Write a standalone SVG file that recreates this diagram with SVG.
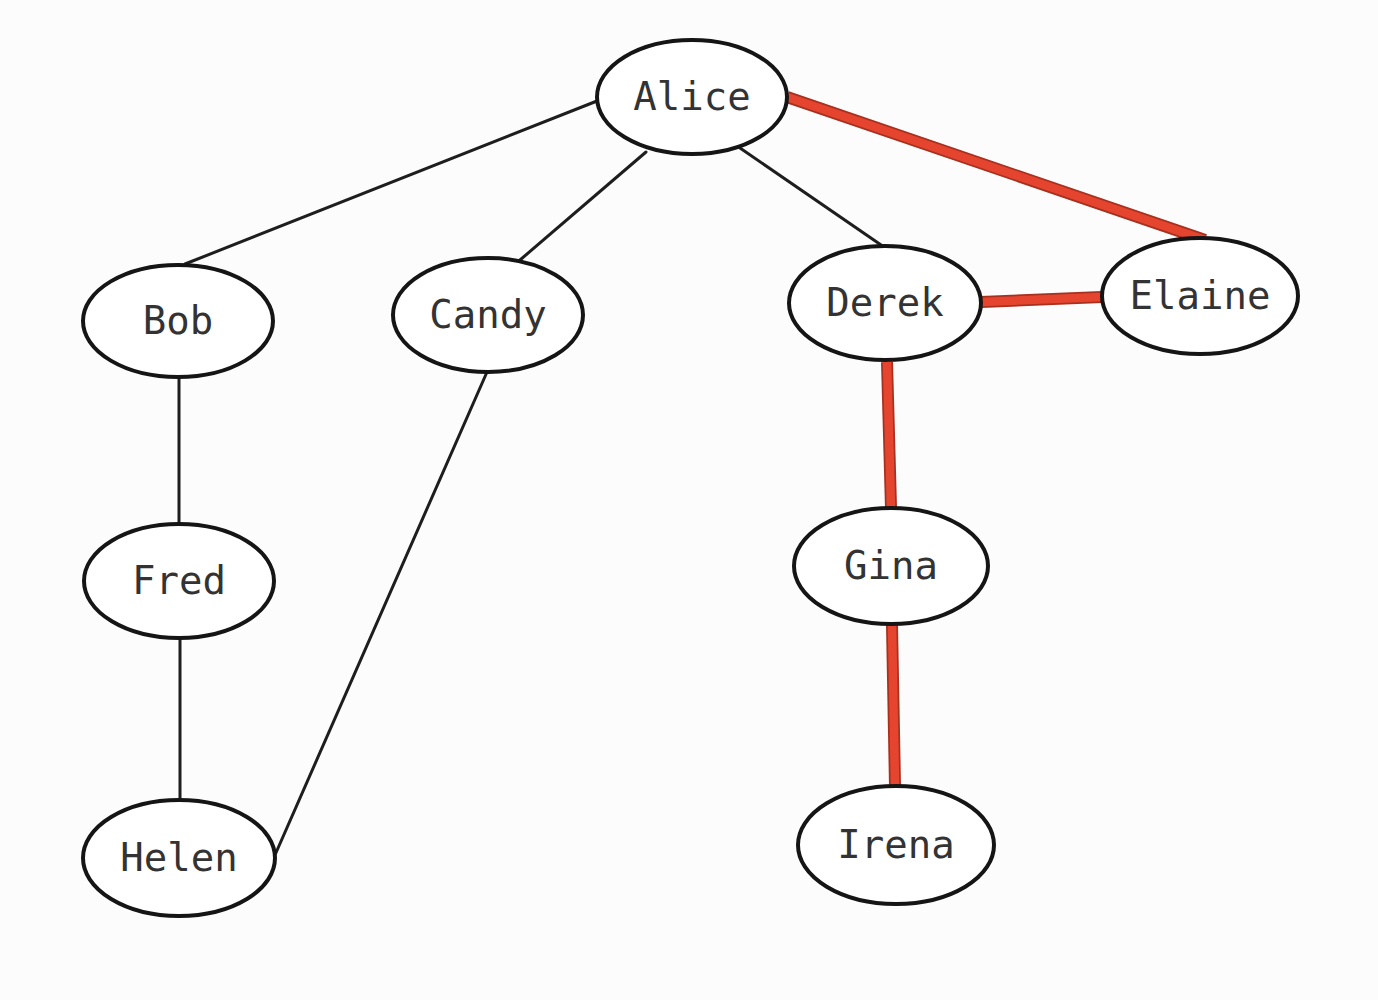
<svg xmlns="http://www.w3.org/2000/svg" width="1378" height="1000" viewBox="0 0 1378 1000">
<style>
.node ellipse{fill:#fff;stroke:#151515;stroke-width:4}
.node text{font-family:"DejaVu Sans Mono","Liberation Mono",monospace;font-size:39px;fill:#333;text-anchor:middle}
.e{stroke:#1e1e1e;stroke-width:3;fill:none;stroke-linecap:round}
.rb{stroke:#a8301f;stroke-width:12;fill:none}
.r{stroke:#e5452f;stroke-width:8.5;fill:none}
</style>
<rect width="1378" height="1000" fill="#fcfcfc"/>
<g id="connectors">
<line class="e" x1="597" y1="101" x2="185" y2="264"/>
<line class="e" x1="646" y1="152" x2="520" y2="260"/>
<line class="e" x1="740" y1="148" x2="884" y2="247"/>
<line class="e" x1="179" y1="378" x2="179" y2="525"/>
<line class="e" x1="487" y1="372" x2="275" y2="855"/>
<line class="e" x1="180" y1="638" x2="180" y2="800"/>
<g>
<line class="rb" x1="787" y1="97" x2="1205" y2="240"/>
<line class="rb" x1="981" y1="302" x2="1102" y2="297"/>
<line class="rb" x1="887" y1="362" x2="891" y2="508"/>
<line class="rb" x1="892" y1="625" x2="895" y2="786"/>
<line class="r" x1="787" y1="97" x2="1205" y2="240"/>
<line class="r" x1="981" y1="302" x2="1102" y2="297"/>
<line class="r" x1="887" y1="362" x2="891" y2="508"/>
<line class="r" x1="892" y1="625" x2="895" y2="786"/>
</g>
</g>
<g id="alice" class="node"><ellipse cx="692" cy="97" rx="95" ry="57"/><text x="692" y="110">Alice</text></g>
<g id="bob" class="node"><ellipse cx="178" cy="321" rx="95" ry="56"/><text x="178" y="334">Bob</text></g>
<g id="candy" class="node"><ellipse cx="488" cy="315" rx="95" ry="57"/><text x="488" y="328">Candy</text></g>
<g id="derek" class="node"><ellipse cx="885" cy="303" rx="96" ry="57"/><text x="885" y="316">Derek</text></g>
<g id="elaine" class="node"><ellipse cx="1200" cy="296" rx="98" ry="58"/><text x="1200" y="309">Elaine</text></g>
<g id="fred" class="node"><ellipse cx="179" cy="581" rx="95" ry="57"/><text x="179" y="594">Fred</text></g>
<g id="gina" class="node"><ellipse cx="891" cy="566" rx="97" ry="58"/><text x="891" y="579">Gina</text></g>
<g id="helen" class="node"><ellipse cx="179" cy="858" rx="96" ry="58"/><text x="179" y="871">Helen</text></g>
<g id="irena" class="node"><ellipse cx="896" cy="845" rx="98" ry="59"/><text x="896" y="858">Irena</text></g>
</svg>
